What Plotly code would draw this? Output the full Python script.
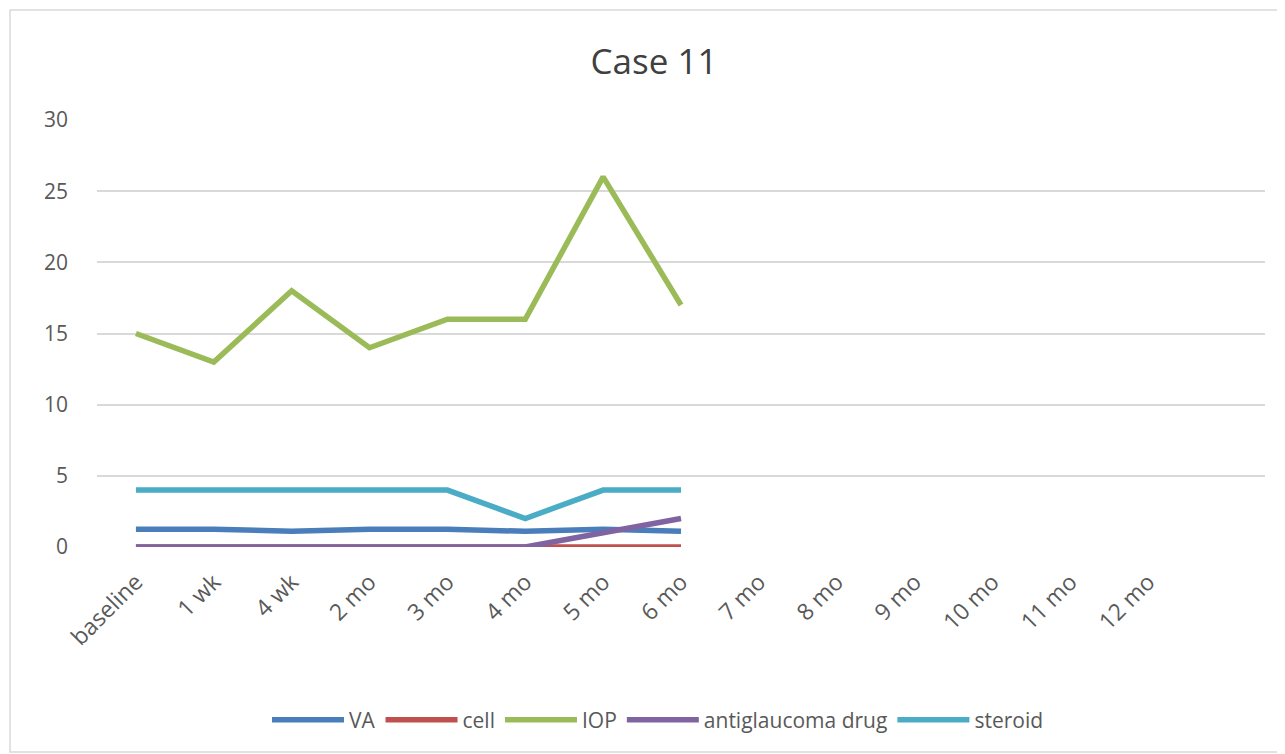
import plotly.graph_objects as go

categories = ["baseline", "1 wk", "4 wk", "2 mo", "3 mo", "4 mo", "5 mo", "6 mo",
              "7 mo", "8 mo", "9 mo", "10 mo", "11 mo", "12 mo"]
va = [1.25, 1.25, 1.1, 1.25, 1.25, 1.1, 1.25, 1.1]
cell = [0, 0, 0, 0, 0, 0, 0, 0]
iop = [15, 13, 18, 14, 16, 16, 26, 17]
antiglaucoma = [0, 0, 0, 0, 0, 0, 1, 2]
steroid = [4, 4, 4, 4, 4, 2, 4, 4]

series = [
    ("VA", va, "#4A7EBB"),
    ("cell", cell, "#C0504D"),
    ("IOP", iop, "#9BBB59"),
    ("antiglaucoma drug", antiglaucoma, "#8064A2"),
    ("steroid", steroid, "#4BACC6"),
]

FONT = "Open Sans, sans-serif"

fig = go.Figure()
for name, vals, color in series:
    fig.add_trace(go.Scatter(
        x=categories[:len(vals)], y=vals, name=name, mode="lines",
        line=dict(color=color, width=5.5),
    ))

OFF = 8  # page body margin
W, H = 1285 - OFF, 754 - OFF
# target plot area in window pixels
PL, PR, PT, PB = 97, 1265, 120, 547
L, T = PL - OFF, PT - OFF
R = W - (PR - OFF)
B = H - (PB - OFF)
pw, ph = PR - PL, PB - PT

def px(x):
    return (x - PL) / pw

def py(y):
    return (PB - y) / ph

fig.update_layout(
    width=W, height=H,
    margin=dict(l=L, r=R, t=T, b=B),
    paper_bgcolor="white", plot_bgcolor="white",
    title=dict(text="Case 11", x=px(654), xref="paper", y=1 - (62 - OFF) / H,
               yanchor="middle", xanchor="center",
               font=dict(family=FONT, size=35, color="#404040")),
    font=dict(family=FONT, color="#595959"),
    showlegend=True,
    legend=dict(orientation="h", x=px(658), xanchor="center", y=py(720), yanchor="middle",
                font=dict(family=FONT, size=21, color="#595959"),
                itemwidth=72, traceorder="normal"),
    xaxis=dict(type="category", categoryorder="array", categoryarray=categories,
               range=[-0.5, 14.5], tickangle=-45, showgrid=False, zeroline=False,
               showline=False, ticks="", ticklabelstandoff=16,
               tickfont=dict(family=FONT, size=23, color="#595959")),
    yaxis=dict(range=[0, 30], tickvals=[0, 5, 10, 15, 20, 25, 30], showgrid=True,
               gridcolor="#D9D9D9", gridwidth=1.5, zeroline=False, showline=False, ticks="",
               ticklabelstandoff=28,
               tickfont=dict(family=FONT, size=21, color="#595959")),
    shapes=[dict(type="rect", xref="paper", yref="paper",
                 x0=px(10), x1=px(1283), y0=py(752), y1=py(10),
                 line=dict(color="#D9D9D9", width=1.5), fillcolor="rgba(0,0,0,0)",
                 layer="below")],
)

fig.write_html("out.html")
